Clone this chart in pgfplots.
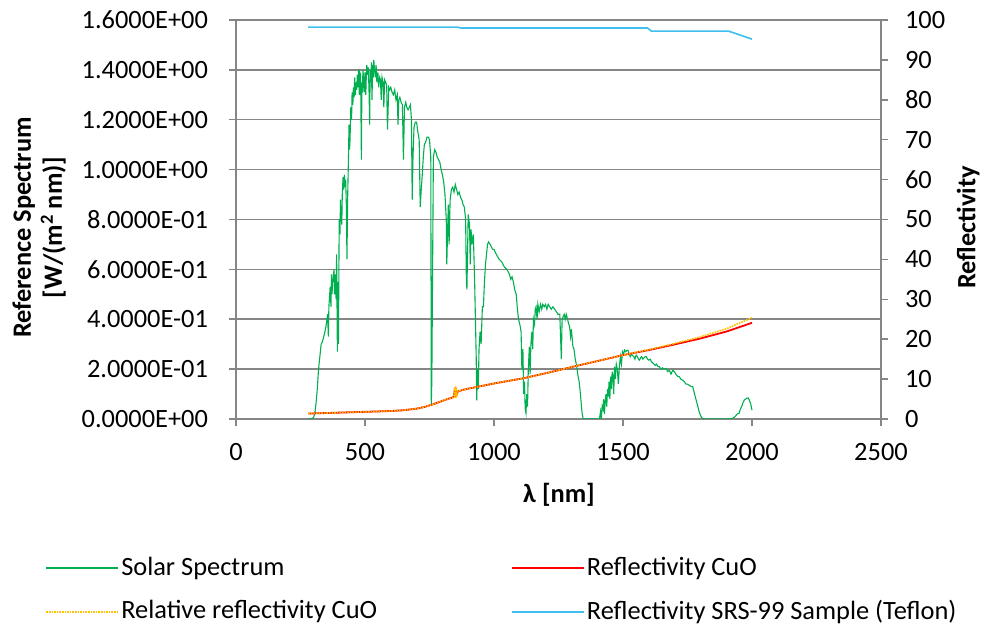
\documentclass[border=0pt]{standalone}
\usepackage{fontspec}
\setmainfont{Carlito}
\usepackage{pgfplots}
\usepackage{pgfplotstable}
\pgfplotsset{compat=1.18}

\definecolor{solar}{HTML}{00B050}
\definecolor{cuo}{HTML}{FF0000}
\definecolor{relcuo}{HTML}{FFC000}
\definecolor{teflon}{HTML}{3FBFF0}
\definecolor{axisgray}{HTML}{868686}

% Reference solar spectrum, W/(m^2 nm)
\pgfplotstableread{
lambda E
280 0
290 0
300 0.005
305 0.02
310 0.06
315 0.12
320 0.20
325 0.25
330 0.30
335 0.31
340 0.33
345 0.35
350 0.38
355 0.42
358 0.33
360 0.45
365 0.53
368 0.45
370 0.58
372 0.50
375 0.55
380 0.60
382 0.50
385 0.58
388 0.48
390 0.66
393 0.27
395 0.55
397 0.30
400 0.80
403 0.74
405 0.88
407 0.82
410 0.78
412 0.90
415 0.97
418 0.92
420 0.98
423 0.93
425 0.96
428 0.85
430 0.64
433 0.90
436 1.05
438 1.18
440 1.08
442 1.12
445 1.25
448 1.20
450 1.31
453 1.26
455 1.33
458 1.29
460 1.37
463 1.30
465 1.35
468 1.32
470 1.38
473 1.33
475 1.40
478 1.30
480 1.39
483 1.38
486 1.04
488 1.35
490 1.31
492 1.40
495 1.36
497 1.31
500 1.39
503 1.30
505 1.37
507 1.42
510 1.38
513 1.41
516 1.30
518 1.18
520 1.40
523 1.35
525 1.43
527 1.28
530 1.42
532 1.37
534 1.44
537 1.40
540 1.37
543 1.42
546 1.35
550 1.39
553 1.33
557 1.37
560 1.36
563 1.28
566 1.37
570 1.35
573 1.25
576 1.36
580 1.35
584 1.34
587 1.16
589 1.22
592 1.33
596 1.32
600 1.33
605 1.31
610 1.30
615 1.32
620 1.28
625 1.30
628 1.18
631 1.28
635 1.29
640 1.27
645 1.26
649 1.04
653 1.25
658 1.27
662 1.25
667 1.24
672 1.25
676 1.26
680 1.20
683 0.88
686 1.05
690 1.17
695 1.19
700 1.19
705 1.15
710 1.12
714 0.85
718 0.92
722 0.98
726 1.05
730 1.10
735 1.11
740 1.13
746 1.13
750 1.12
755 1.05
757 0.06
759 0.15
762 0.60
765 1.05
770 1.08
775 1.07
780 1.05
785 1.04
790 1.03
795 1.00
800 0.98
805 0.95
810 0.90
815 0.80
817 0.62
820 0.75
823 0.86
826 0.70
830 0.88
835 0.92
840 0.93
845 0.91
850 0.94
855 0.92
860 0.90
865 0.91
870 0.89
875 0.88
880 0.86
885 0.85
890 0.80
893 0.55
895 0.52
898 0.70
900 0.82
905 0.78
908 0.62
911 0.76
915 0.70
920 0.74
925 0.55
928 0.40
931 0.25
933 0.075
936 0.20
939 0.12
942 0.28
946 0.35
950 0.30
955 0.45
959 0.45
963 0.55
967 0.62
971 0.66
975 0.70
979 0.71
985 0.70
990 0.69
995 0.68
1000 0.68
1009 0.66
1020 0.64
1030 0.63
1040 0.61
1050 0.60
1060 0.58
1065 0.56
1070 0.57
1075 0.55
1080 0.52
1086 0.50
1090 0.45
1095 0.40
1100 0.38
1105 0.35
1108 0.20
1112 0.28
1115 0.10
1118 0.15
1121 0.04
1124 0.023
1127 0.10
1130 0.05
1133 0.20
1137 0.29
1140 0.18
1143 0.30
1147 0.35
1150 0.28
1153 0.40
1157 0.38
1160 0.44
1163 0.45
1167 0.40
1170 0.46
1175 0.43
1180 0.46
1185 0.44
1189 0.46
1195 0.45
1200 0.46
1205 0.44
1210 0.46
1216 0.45
1222 0.44
1228 0.45
1235 0.44
1242 0.43
1248 0.42
1255 0.42
1259 0.30
1261 0.24
1264 0.40
1268 0.41
1272 0.42
1276 0.40
1280 0.42
1285 0.40
1290 0.38
1293 0.37
1297 0.33
1300 0.36
1306 0.29
1310 0.28
1315 0.24
1319 0.22
1322 0.20
1326 0.17
1330 0.15
1335 0.10
1339 0.05
1342 0.02
1345 0.003
1350 0
1380 0
1400 0
1409 0.002
1413 0.03
1416 0.0
1419 0.05
1422 0.04
1425 0.08
1428 0.02
1431 0.07
1434 0.10
1437 0.05
1440 0.12
1443 0.09
1446 0.15
1449 0.08
1452 0.17
1455 0.12
1458 0.19
1461 0.17
1464 0.10
1467 0.21
1470 0.16
1474 0.22
1478 0.20
1482 0.14
1486 0.21
1490 0.25
1494 0.22
1498 0.27
1502 0.26
1506 0.276
1510 0.27
1515 0.275
1519 0.276
1524 0.26
1528 0.25
1532 0.26
1537 0.255
1542 0.25
1546 0.24
1551 0.256
1556 0.25
1560 0.24
1564 0.236
1568 0.245
1572 0.25
1577 0.24
1581 0.245
1586 0.25
1590 0.25
1595 0.24
1600 0.236
1605 0.24
1610 0.23
1615 0.225
1620 0.22
1625 0.215
1630 0.22
1636 0.21
1641 0.21
1647 0.20
1653 0.205
1660 0.20
1667 0.203
1673 0.19
1680 0.195
1686 0.18
1693 0.196
1699 0.19
1705 0.18
1712 0.17
1718 0.17
1724 0.16
1731 0.156
1737 0.15
1744 0.14
1750 0.14
1757 0.135
1764 0.13
1770 0.13
1775 0.11
1780 0.09
1785 0.07
1790 0.05
1795 0.03
1800 0.015
1805 0.005
1809 0.002
1815 0
1900 0
1924 0.002
1935 0.01
1942 0.02
1950 0.023
1955 0.04
1960 0.05
1965 0.065
1970 0.076
1975 0.08
1980 0.083
1985 0.085
1990 0.075
1995 0.06
2000 0.036
}\solartable

% Measured reflectivity of CuO, %
\pgfplotstableread{
lambda R
280 1.4
300 1.4
350 1.5
400 1.6
450 1.7
500 1.8
550 1.9
600 2.0
650 2.2
700 2.6
730 3.0
760 3.6
790 4.3
820 5.0
840 5.4
845 5.7
848 7.6
850 5.5
853 7.0
856 6.2
860 6.9
870 7.1
880 7.3
900 7.6
1000 8.9
1113 10.2
1216 11.7
1332 13.5
1400 14.5
1499 16.0
1602 17.3
1680 18.4
1795 20.1
1900 21.9
2000 24.1
}\cuotable

% Reflectivity of CuO relative to the reference sample, %
\pgfplotstableread{
lambda R
280 1.4
300 1.4
350 1.5
400 1.6
450 1.7
500 1.8
550 1.9
600 2.0
650 2.2
700 2.6
730 3.0
760 3.6
790 4.3
820 5.0
840 5.4
845 5.8
848 7.9
850 5.3
853 7.2
856 6.1
860 7.0
870 7.1
880 7.3
900 7.6
1000 8.9
1113 10.2
1216 11.7
1332 13.5
1400 14.5
1499 16.0
1602 17.4
1680 18.6
1795 20.5
1900 22.6
2000 25.4
}\relcuotable

% Reflectivity of the SRS-99 reference sample, %
\pgfplotstableread{
lambda R
280 98.2
860 98.2
870 98.0
1595 98.0
1610 97.2
1910 97.2
2000 95.2
}\teflontable

\begin{document}
\fontsize{26.4bp}{31bp}\selectfont
\begin{tikzpicture}
\useasboundingbox (0,0) rectangle (988bp,631bp);
\pgfplotsset{
  common/.style={
    at={(236bp,212bp)}, anchor=south west,
    scale only axis, width=645bp, height=399bp,
    xmin=0, xmax=2500,
    tick align=outside,
    major tick length=7bp,
    tick style={axisgray, line width=1.5bp},
    axis line style={axisgray, line width=1.5bp},
  },
}
\begin{axis}[
  common,
  ymin=0, ymax=1.6,
  xtick={0,500,1000,1500,2000,2500},
  xticklabels={0,500,1000,1500,2000,2500},
  xticklabel style={yshift=-8bp},
  xtick pos=bottom,
  ytick={0,0.2,0.4,0.6,0.8,1.0,1.2,1.4,1.6},
  yticklabels={0.0000E+00,2.0000E-01,4.0000E-01,6.0000E-01,8.0000E-01,1.0000E+00,1.2000E+00,1.4000E+00,1.6000E+00},
  yticklabel style={xshift=-12bp},
  ytick pos=left,
  ymajorgrids,
  major grid style={axisgray, line width=1.5bp},
  xlabel={\bfseries λ [nm]},
  xlabel style={at={(axis description cs:0.5008,-0.19)}, anchor=center},
  ylabel={\bfseries Reference Spectrum\\\bfseries [W/(m\textsuperscript{2} nm)]},
  ylabel style={at={(axis description cs:-0.305,0.48)}, anchor=center, align=center},
]
\addplot[solar, line width=1.1bp] table[x=lambda, y=E] {\solartable};
\end{axis}

\begin{axis}[
  common,
  ymin=0, ymax=100,
  axis x line=none,
  axis y line*=right,
  ytick={0,10,20,30,40,50,60,70,80,90,100},
  yticklabels={0,10,20,30,40,50,60,70,80,90,100},
  yticklabel style={xshift=8bp},
  ylabel={\bfseries Reflectivity},
  ylabel style={at={(axis description cs:1.135,0.48)}, anchor=center, rotate=0},
  legend columns=2,
  legend cell align=left,
  legend image code/.code={%
    \draw[#1] (0bp,0bp) -- (66bp,0bp);
    \path (0bp,0bp) -- (72bp,0bp);},
  legend style={
    at={(axis description cs:-0.30,-0.335)}, anchor=north west,
    draw=none, fill=none,
    row sep=17bp,
    /tikz/every even column/.append style={column sep=132bp},
  },
]
\addlegendimage{solar, line width=1.1bp}
\addlegendentry{Solar Spectrum}
\addplot[cuo, line width=1.8bp] table[x=lambda, y=R] {\cuotable};
\addlegendentry{Reflectivity CuO}
\addplot[relcuo, line width=1.6bp, densely dotted] table[x=lambda, y=R] {\relcuotable};
\addlegendentry{Relative reflectivity CuO}
\addplot[teflon, line width=1.6bp] table[x=lambda, y=R] {\teflontable};
\addlegendentry{Reflectivity SRS-99 Sample (Teflon)}
\end{axis}
\end{tikzpicture}
\end{document}
